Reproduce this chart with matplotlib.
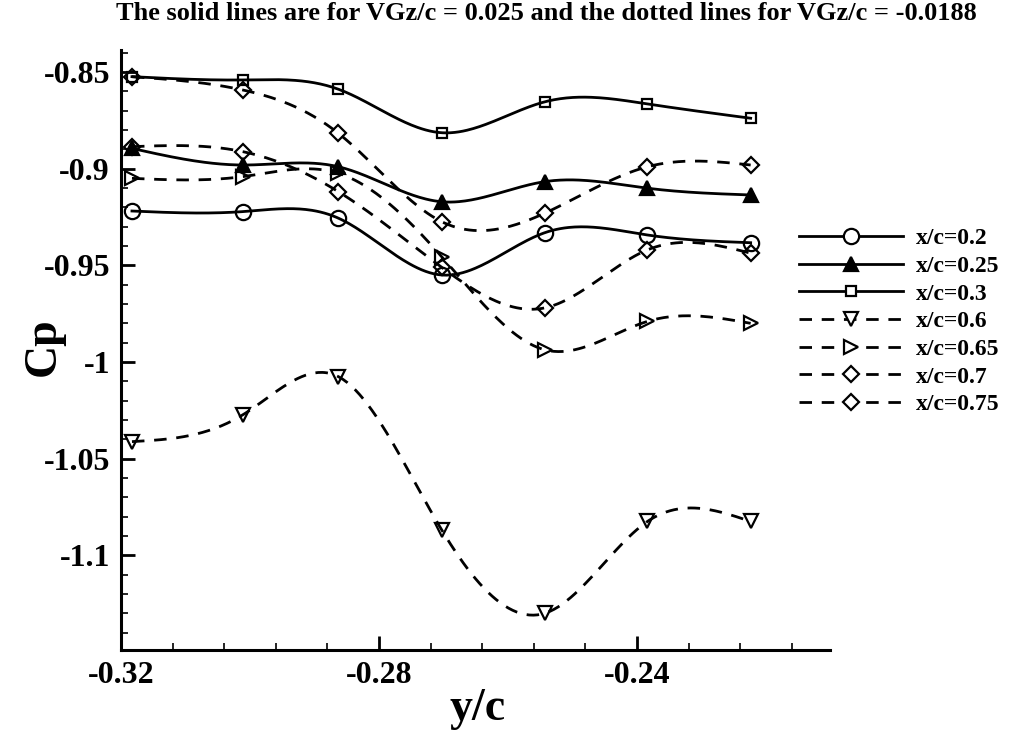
import numpy as np
import matplotlib
matplotlib.use("Agg")
import matplotlib.pyplot as plt
from matplotlib.ticker import MultipleLocator

# spanwise stations and Cp at each chordwise position
y_c = [-0.3183, -0.3011, -0.2863, -0.2703, -0.2543, -0.2384, -0.2224]

cp_020 = [-0.9219, -0.9222, -0.9256, -0.9550, -0.9331, -0.9343, -0.9383]
cp_025 = [-0.8895, -0.8981, -0.8990, -0.9171, -0.9067, -0.9101, -0.9136]
cp_030 = [-0.8524, -0.8541, -0.8589, -0.8814, -0.8654, -0.8665, -0.8739]
cp_060 = [-1.0412, -1.0273, -1.0076, -1.0868, -1.1300, -1.0825, -1.0825]
cp_065 = [-0.9050, -0.9041, -0.9024, -0.9455, -0.9937, -0.9790, -0.9800]
cp_070 = [-0.8524, -0.8593, -0.8817, -0.9274, -0.9230, -0.8990, -0.8981]
cp_075 = [-0.8886, -0.8912, -0.9119, -0.9510, -0.9720, -0.9420, -0.9437]

labels = ["x/c=0.2", "x/c=0.25", "x/c=0.3", "x/c=0.6", "x/c=0.65", "x/c=0.7", "x/c=0.75"]
series = [cp_020, cp_025, cp_030, cp_060, cp_065, cp_070, cp_075]
markers = ["o", "^", "s", "v", ">", "D", "D"]
filled = [False, True, False, False, False, False, False]
msizes = [11, 10, 7.5, 10, 10, 8.5, 8.5]
dashed = [False, False, False, True, True, True, True]


def natural_spline(x, y, n=300):
    x = np.asarray(x, float)
    y = np.asarray(y, float)
    h = np.diff(x)
    k = len(x)
    A = np.zeros((k, k))
    b = np.zeros(k)
    A[0, 0] = A[-1, -1] = 1.0
    for i in range(1, k - 1):
        A[i, i - 1] = h[i - 1]
        A[i, i] = 2 * (h[i - 1] + h[i])
        A[i, i + 1] = h[i]
        b[i] = 6 * ((y[i + 1] - y[i]) / h[i] - (y[i] - y[i - 1]) / h[i - 1])
    M = np.linalg.solve(A, b)
    xs = np.linspace(x[0], x[-1], n)
    idx = np.clip(np.searchsorted(x, xs) - 1, 0, k - 2)
    x0, x1 = x[idx], x[idx + 1]
    hh = x1 - x0
    t0, t1 = x1 - xs, xs - x0
    ys = (M[idx] * t0**3 + M[idx + 1] * t1**3) / (6 * hh) \
        + (y[idx] / hh - M[idx] * hh / 6) * t0 \
        + (y[idx + 1] / hh - M[idx + 1] * hh / 6) * t1
    return xs, ys


plt.rcParams["font.family"] = ["Liberation Serif", "DejaVu Serif"]
plt.rcParams["font.weight"] = "bold"

fig = plt.figure(figsize=(10.11, 7.33), dpi=100)
ax = fig.add_axes([121 / 1011, 1 - 650 / 733, (830 - 121) / 1011, 600 / 733])

lw = 2.0
dash = (4.5, 3.5)
handles = []
for vals, lab, mk, fill, ms, dsh in zip(series, labels, markers, filled, msizes, dashed):
    xs, ys = natural_spline(y_c, vals)
    ls = "--" if dsh else "-"
    line, = ax.plot(xs, ys, color="black", lw=lw, ls=ls)
    if dsh:
        line.set_dashes(dash)
    ax.plot(y_c, vals, ls="none", marker=mk, ms=ms, mew=1.6,
            mec="black", mfc="black" if fill else "none")
    h, = ax.plot([], [], color="black", lw=lw, ls=ls, marker=mk, ms=ms, mew=1.6,
                 mec="black", mfc="black" if fill else "white")
    if dsh:
        h.set_dashes(dash)
    handles.append(h)

ax.set_xlim(-0.32, -0.2101)
ax.set_ylim(-1.149, -0.8386)
ax.xaxis.set_minor_locator(MultipleLocator(0.008))
ax.yaxis.set_minor_locator(MultipleLocator(0.01))
ax.set_xticks([-0.32, -0.28, -0.24])
ax.set_xticklabels(["-0.32", "-0.28", "-0.24"])
ax.set_yticks([-0.85, -0.9, -0.95, -1.0, -1.05, -1.1])
ax.set_yticklabels(["-0.85", "-0.9", "-0.95", "-1", "-1.05", "-1.1"])

for s in ["top", "right"]:
    ax.spines[s].set_visible(False)
for s in ["left", "bottom"]:
    ax.spines[s].set_linewidth(2.2)
ax.tick_params(which="major", direction="in", length=10, width=2.0, labelsize=23, pad=8)
ax.tick_params(which="minor", direction="in", length=5, width=1.2)

ax.set_xlabel("y/c", fontsize=33, fontweight="bold")
ax.set_ylabel("Cp", fontsize=33, fontweight="bold")
ax.xaxis.set_label_coords(0.5035, -0.063)
ax.yaxis.set_label_coords(-0.080, 0.505)

fig.text(0.540, 0.982, "The solid lines are for VGz/c = 0.025 and the dotted lines for VGz/c = -0.0188",
         ha="center", va="center", fontsize=19, fontweight="bold")

fig.legend(handles, labels, loc="upper left", bbox_to_anchor=(787 / 1011, 1 - 216 / 733),
           frameon=False, handlelength=4.4, handletextpad=0.55,
           labelspacing=0.26, borderpad=0, prop={"weight": "bold", "size": 17})

fig.savefig("out.png", dpi=100)
